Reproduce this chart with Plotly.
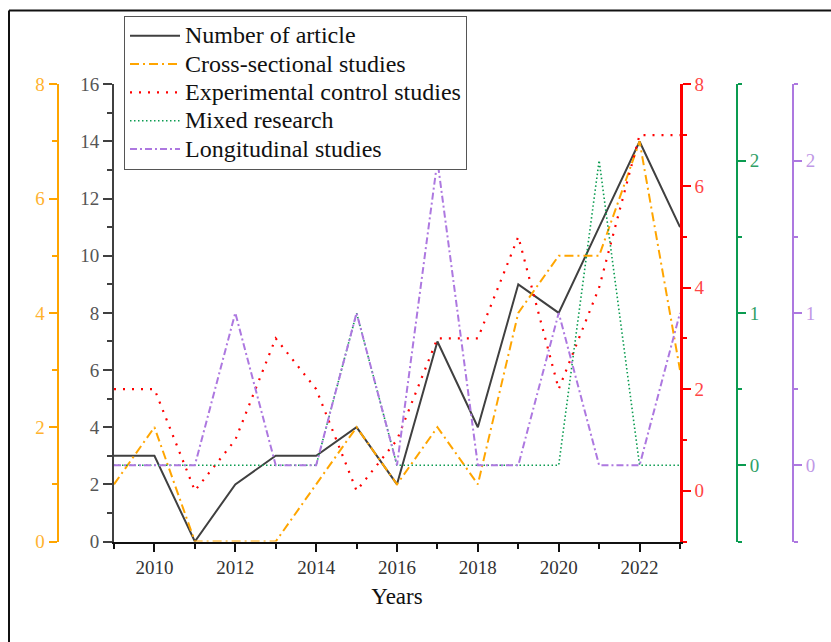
import plotly.graph_objects as go

years = list(range(2009, 2024))
n_articles = [3, 3, 0, 2, 3, 3, 4, 2, 7, 4, 9, 8, 11, 14, 11]
cross_sectional = [1, 2, 0, 0, 0, 1, 2, 1, 2, 1, 4, 5, 5, 7, 3]
experimental = [2, 2, 0, 1, 3, 2, 0, 1, 3, 3, 5, 2, 4, 7, 7]
mixed = [0, 0, 0, 0, 0, 0, 1, 0, 0, 0, 0, 0, 2, 0, 0]
longitudinal = [0, 0, 0, 1, 0, 0, 1, 0, 2, 0, 0, 1, 0, 0, 1]
series_names = ["Number of article", "Cross-sectional studies", "Experimental control studies",
                "Mixed research", "Longitudinal studies"]

x_ticks = [2010, 2012, 2014, 2016, 2018, 2020, 2022]
left_ticks = [0, 2, 4, 6, 8, 10, 12, 14, 16]
orange_ticks = [0, 2, 4, 6, 8]
red_ticks = [0, 2, 4, 6, 8]
small_ticks = [0, 1, 2]

W, H = 831, 642
FONT = "Liberation Serif"
BLACK = "#404040"
ORANGE = "#FFA500"
RED = "#FF0000"
GREEN = "#0A9B50"
PURPLE = "#AD78E0"

x0, x1 = 114 / W, 680 / W
y0, y1 = 1 - 541.5 / H, 1 - 84.3 / H

def lname(s):
    return "<span style='font-size:24px'>" + s + "</span>"

fig = go.Figure()
fig.add_trace(go.Scatter(x=years, y=n_articles, name=lname(series_names[0]), mode="lines",
                         line=dict(color=BLACK, width=2), yaxis="y"))
fig.add_trace(go.Scatter(x=years, y=cross_sectional, name=lname(series_names[1]), mode="lines",
                         line=dict(color=ORANGE, width=2, dash="9px,4px,2px,4px"), yaxis="y2"))
fig.add_trace(go.Scatter(x=years, y=experimental, name=lname(series_names[2]), mode="lines",
                         line=dict(color=RED, width=2.2, dash="2px,7px"), yaxis="y3"))
fig.add_trace(go.Scatter(x=years, y=mixed, name=lname(series_names[3]), mode="lines",
                         line=dict(color=GREEN, width=1.6, dash="1.5px,2.5px"), yaxis="y4"))
fig.add_trace(go.Scatter(x=years, y=longitudinal, name=lname(series_names[4]), mode="lines",
                         line=dict(color=PURPLE, width=2, dash="7px,3px,2px,3px"), yaxis="y5"))

tick_font = lambda c: dict(family=FONT, size=19, color=c)

fig.update_layout(
    width=W, height=H,
    margin=dict(l=0, r=0, t=0, b=0, autoexpand=False),
    paper_bgcolor="white", plot_bgcolor="white",
    showlegend=True,
    legend=dict(x=124 / W, y=1 - 15.5 / H, xanchor="left", yanchor="top",
                bgcolor="white", bordercolor="#555555", borderwidth=1,
                font=dict(family=FONT, size=19.5, color="#111111"),
                itemwidth=50, tracegroupgap=0),
    xaxis=dict(domain=[x0, x1], range=[2009, 2023], tickmode="array", tickvals=x_ticks,
               automargin=False,
               showline=True, linecolor="#111111", linewidth=2, ticks="outside",
               ticklen=8, tickwidth=2, tickcolor="#111111", showgrid=False, zeroline=False,
               tickfont=tick_font("#333333"),
               minor=dict(dtick=1, tick0=2009, ticks="outside", ticklen=5, tickwidth=2, tickcolor="#111111"),
               title=dict(text="Years", font=dict(family=FONT, size=23, color="#111111"), standoff=11)),
    yaxis=dict(domain=[y0, y1], range=[0, 16], tickmode="array", tickvals=left_ticks,
               automargin=False,
               anchor="x", side="left", showline=True, linecolor=BLACK, linewidth=2,
               ticks="outside", ticklen=9, tickwidth=2, tickcolor=BLACK,
               minor=dict(dtick=1, tick0=0, ticks="outside", ticklen=5, tickwidth=2, tickcolor=BLACK),
               showgrid=False, zeroline=False, tickfont=tick_font("#555555")),
    yaxis2=dict(domain=[y0, y1], range=[0, 8], tickmode="array", tickvals=orange_ticks,
                automargin=False,
                overlaying="y", anchor="free", position=57.5 / W, side="left",
                showline=True, linecolor=ORANGE, linewidth=2,
                ticks="outside", ticklen=8, tickwidth=2, tickcolor=ORANGE,
                minor=dict(dtick=1, tick0=0, ticks="outside", ticklen=5, tickwidth=2, tickcolor=ORANGE),
                showgrid=False, zeroline=False, tickfont=tick_font("#FFB22E")),
    yaxis3=dict(domain=[y0, y1], range=[-1, 8], tickmode="array", tickvals=red_ticks,
                automargin=False,
                overlaying="y", anchor="x", side="right",
                showline=True, linecolor=RED, linewidth=2.5,
                ticks="outside", ticklen=8, tickwidth=2, tickcolor=RED,
                minor=dict(tickmode="array", tickvals=[-1, 1, 3, 5, 7], ticks="outside", ticklen=4, tickwidth=2, tickcolor=RED),
                showgrid=False, zeroline=False, tickfont=tick_font("#FF4545")),
    yaxis4=dict(domain=[y0, y1], range=[-0.5, 2.5], tickmode="array", tickvals=small_ticks,
                automargin=False,
                overlaying="y", anchor="free", position=737 / W, side="right",
                showline=True, linecolor=GREEN, linewidth=2,
                ticks="outside", ticklen=8, tickwidth=2, tickcolor=GREEN,
                minor=dict(tickmode="array", tickvals=[-0.5, 0.5, 1.5, 2.5], ticks="outside", ticklen=4, tickwidth=2, tickcolor=GREEN),
                showgrid=False, zeroline=False, tickfont=tick_font("#2FA066")),
    yaxis5=dict(domain=[y0, y1], range=[-0.5, 2.5], tickmode="array", tickvals=small_ticks,
                automargin=False,
                overlaying="y", anchor="free", position=793 / W, side="right",
                showline=True, linecolor=PURPLE, linewidth=2,
                ticks="outside", ticklen=8, tickwidth=2, tickcolor=PURPLE,
                minor=dict(tickmode="array", tickvals=[-0.5, 0.5, 1.5, 2.5], ticks="outside", ticklen=4, tickwidth=2, tickcolor=PURPLE),
                showgrid=False, zeroline=False, tickfont=tick_font("#BF98E6")),
    shapes=[
        dict(type="line", xref="paper", yref="paper", x0=9 / W, x1=1.0, y0=1 - 10.5 / H, y1=1 - 10.5 / H,
             line=dict(color="#111111", width=2)),
        dict(type="line", xref="paper", yref="paper", x0=9 / W, x1=9 / W, y0=0, y1=1 - 10.5 / H,
             line=dict(color="#111111", width=2)),
    ],
)

fig.write_html("out.html", config={"displayModeBar": False},
               post_script="document.body.style.margin='0px';")
